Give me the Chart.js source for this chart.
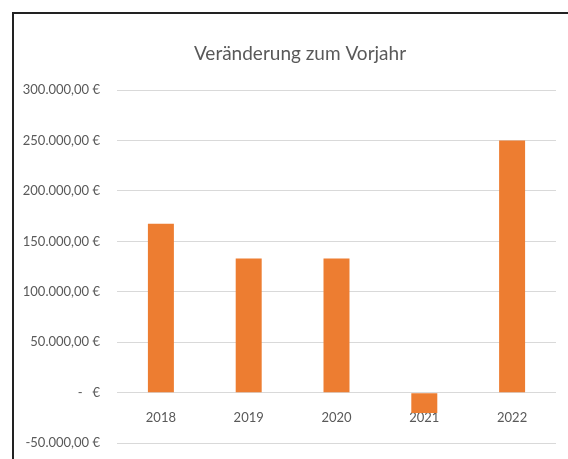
<!DOCTYPE html>
<html>
<head>
<meta charset="utf-8">
<script src="https://cdn.jsdelivr.net/npm/chart.js@4.4.0/dist/chart.umd.min.js"></script>
<style>
  html, body { margin: 0; padding: 0; background: #fff; }
  #wrap { position: relative; width: 568px; height: 459px; overflow: hidden; }
  #frame { position: absolute; left: 12px; top: 12px; width: 600px; height: 500px;
           border-top: 2px solid #222; border-left: 2px solid #222; box-sizing: border-box; }
  canvas { position: absolute; left: 0; top: 0; }
</style>
</head>
<body>
<div id="wrap">
  <div id="frame"></div>
  <canvas id="c" width="568" height="468"></canvas>
</div>
<script>
const categories = ['2018', '2019', '2020', '2021', '2022'];
const values = [167500, 133000, 133000, -20000, 250000];
const yTicks = [300000, 250000, 200000, 150000, 100000, 50000, 0, -50000];
const titleText = 'Veränderung zum Vorjahr';

const FONT = "Lato, 'Open Sans', sans-serif";

function euro(v) {
  if (v === 0) return '-   €';
  const neg = v < 0;
  const s = Math.abs(v).toFixed(0).replace(/\B(?=(\d{3})+(?!\d))/g, '.');
  return (neg ? '-' : '') + s + ',00 €';
}

const titlePlugin = {
  id: 'offsetTitle',
  afterDraw(chart) {
    const ctx = chart.ctx;
    ctx.save();
    ctx.font = "19px " + FONT;
    ctx.fillStyle = '#595959';
    ctx.textAlign = 'center';
    ctx.textBaseline = 'alphabetic';
    ctx.fillText(titleText, 300, 60);
    ctx.restore();
  }
};

new Chart(document.getElementById('c'), {
  type: 'bar',
  data: {
    labels: categories,
    datasets: [{
      data: values,
      backgroundColor: '#ED7D31',
      borderWidth: 0,
      barPercentage: 0.296,
      categoryPercentage: 1
    }]
  },
  options: {
    responsive: false,
    animation: false,
    layout: { padding: { left: 18, right: 12, top: 90, bottom: 6 } },
    plugins: {
      legend: { display: false },
      tooltip: { enabled: false },
      title: { display: false }
    },
    scales: {
      x: {
        position: { y: 0 },
        grid: { display: false, drawTicks: false },
        border: { display: false },
        ticks: { color: '#595959', font: { family: FONT, size: 13 }, padding: 17 }
      },
      y: {
        min: -50000,
        max: 300000,
        afterBuildTicks: (s) => { s.ticks = yTicks.map(v => ({ value: v })); },
        afterFit: (s) => { s.width = 99; },
        grid: { color: '#d9d9d9', lineWidth: 1, drawTicks: false },
        border: { display: false },
        ticks: { color: '#595959', font: { family: FONT, size: 13 }, padding: 17,
                 callback: (v) => euro(v) }
      }
    }
  },
  plugins: [titlePlugin]
});
</script>
</body>
</html>
